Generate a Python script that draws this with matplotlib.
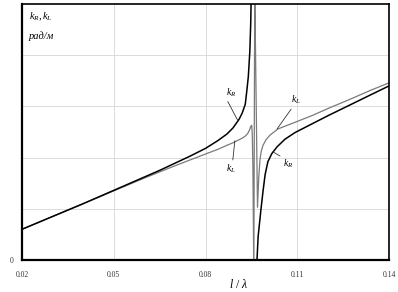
import numpy as np
import matplotlib.pyplot as plt

plt.rcParams['font.family'] = 'Liberation Serif'
plt.rcParams['mathtext.fontset'] = 'custom'
plt.rcParams['mathtext.rm'] = 'Liberation Serif'
plt.rcParams['mathtext.it'] = 'Liberation Serif:italic'

# k_R (черная кривая): две ветви по обе стороны резонанса
kR_left_x = [0.020, 0.030, 0.040, 0.050, 0.055, 0.060, 0.065, 0.070, 0.075, 0.080,
             0.084, 0.087, 0.089, 0.091, 0.092, 0.093, 0.0935, 0.094, 0.0945,
             0.0948, 0.0951]
kR_left_y = [0.60, 0.85, 1.10, 1.36, 1.49, 1.62, 1.75, 1.89, 2.03, 2.18,
             2.33, 2.46, 2.58, 2.75, 2.87, 3.04, 3.30, 3.58, 4.08,
             4.65, 5.76]
kR_right_x = [0.0968, 0.0972, 0.0977, 0.0981, 0.0988, 0.0995, 0.1004, 0.1017,
              0.1034, 0.1060, 0.1093, 0.1142, 0.1201, 0.1273, 0.1338, 0.1400]
kR_right_y = [-0.05, 0.45, 0.74, 0.97, 1.34, 1.67, 1.92, 2.08,
              2.21, 2.36, 2.49, 2.64, 2.82, 3.03, 3.22, 3.40]

# k_L (серая кривая)
kL_x = [0.020, 0.030, 0.040, 0.050, 0.055, 0.060, 0.065, 0.070, 0.075, 0.080,
        0.084, 0.087, 0.089, 0.091, 0.092, 0.093, 0.0938, 0.0944, 0.0948,
        0.0951, 0.0953, 0.0955, 0.0958,
        0.0961, 0.0970, 0.0974, 0.0978, 0.0982, 0.0988, 0.0998, 0.1011,
        0.1037, 0.1093, 0.1148, 0.1201, 0.1273, 0.1338, 0.1400]
kL_y = [0.60, 0.85, 1.10, 1.35, 1.475, 1.60, 1.72, 1.84, 1.955, 2.07,
        2.16, 2.24, 2.29, 2.35, 2.38, 2.42, 2.47, 2.54, 2.61,
        2.63, 2.45, 1.80, -0.30,
        5.30, 1.03, 1.60, 1.95, 2.12, 2.24, 2.35, 2.44,
        2.56, 2.69, 2.82, 2.96, 3.14, 3.31, 3.46]

x_ticks = [0.02, 0.05, 0.08, 0.11, 0.14]
x_tick_labels = ['0.02', '0.05', '0.08', '0.11', '0.14']

fig = plt.figure(figsize=(3.98, 2.92), dpi=100)
ax = fig.add_axes([22 / 398, 32 / 292, 367 / 398, 256 / 292])

# сетка
for xv in [0.05, 0.08, 0.11]:
    ax.axvline(xv, color='#d6d6d6', lw=0.6, zorder=0)
for yv in [1, 2, 3, 4]:
    ax.axhline(yv, color='#d6d6d6', lw=0.6, zorder=0)

ax.plot(kL_x, kL_y, color='#7a7a7a', lw=0.9)
ax.plot(kR_left_x, kR_left_y, color='black', lw=1.1)
ax.plot(kR_right_x, kR_right_y, color='black', lw=1.1)

ax.set_xlim(0.02, 0.14)
ax.set_ylim(0, 5)
ax.set_xticks(x_ticks)
ax.set_xticklabels(x_tick_labels)
ax.set_yticks([0])
ax.set_yticklabels(['0'])
ax.tick_params(axis='both', length=0, labelsize=5.5, colors='#333333')
ax.tick_params(axis='x', pad=8)
ax.tick_params(axis='y', pad=6)

for s in ['left', 'bottom']:
    ax.spines[s].set_linewidth(1.6)
for s in ['top', 'right']:
    ax.spines[s].set_linewidth(1.2)

# подписи кривых
lead = dict(arrowstyle='-', lw=0.6, color='#333333', shrinkA=0, shrinkB=0)
ax.annotate(r'$k_R$', xy=(0.0906, 2.72), xytext=(0.0868, 3.15), fontsize=7,
            ha='left', va='bottom', arrowprops=dict(lead, relpos=(0, 0)))
ax.annotate(r'$k_L$', xy=(0.0896, 2.33), xytext=(0.0866, 1.90), fontsize=7,
            ha='left', va='top', arrowprops=dict(lead, relpos=(0.7, 1)))
ax.annotate(r'$k_L$', xy=(0.1034, 2.56), xytext=(0.1080, 3.00), fontsize=7,
            ha='left', va='bottom', arrowprops=dict(lead, relpos=(0.2, 0)))
ax.annotate(r'$k_R$', xy=(0.1021, 2.11), xytext=(0.1053, 2.00), fontsize=7,
            ha='left', va='top', arrowprops=dict(lead, relpos=(0, 1)))

ax.text(0.018, 0.975, r'$k_R, k_L$', transform=ax.transAxes, fontsize=7.5,
        ha='left', va='top')
ax.text(0.018, 0.895, 'рад/м', transform=ax.transAxes, fontsize=7.5,
        style='italic', ha='left', va='top')
fig.text(238 / 398, 1 / 292, r'$l\ /\ \lambda$', fontsize=8.5,
         ha='center', va='bottom')

fig.savefig('out.png', dpi=100)
